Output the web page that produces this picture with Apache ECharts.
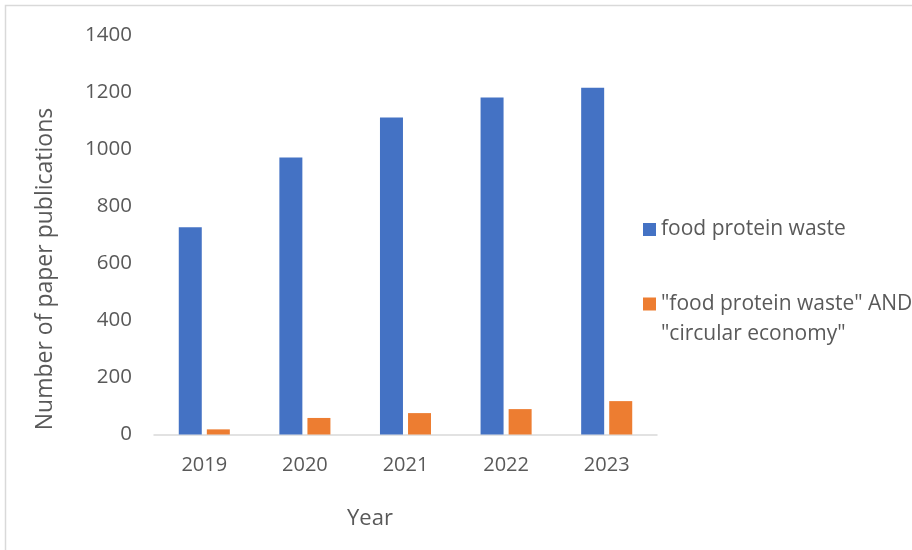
<!DOCTYPE html>
<html>
<head>
<meta charset="utf-8">
<script src="https://cdn.jsdelivr.net/npm/echarts@6/dist/echarts.min.js"></script>
<style>
html,body{margin:0;padding:0;background:#fff;}
#chart{width:912px;height:550px;}
</style>
</head>
<body>
<div id="chart"></div>
<script>
var categories = ['2019', '2020', '2021', '2022', '2023'];
var seriesNames = ['food protein waste', '"food protein waste" AND "circular economy"'];
var legendLabels = ['food protein waste', '\n"food protein waste" AND\n"circular economy"'];
var foodProteinWaste = [726, 971, 1111, 1181, 1215];
var circularEconomy = [18, 58, 75, 89, 117];
var yTicks = [0, 200, 400, 600, 800, 1000, 1200, 1400];

var FONT = '"Open Sans", sans-serif';
var TXT = '#595959';

var chart = echarts.init(document.getElementById('chart'), null, {renderer: 'canvas'});
chart.setOption({
  animation: false,
  backgroundColor: '#ffffff',
  textStyle: {fontFamily: FONT},
  grid: {left: 154, right: 255, top: 35, bottom: 115.5, containLabel: false},
  legend: [{
    orient: 'vertical',
    left: 638,
    top: 209.5,
    itemWidth: 13,
    itemHeight: 13,
    itemGap: 0,
    icon: 'rect',
    data: [seriesNames[0]],
    formatter: function () { return legendLabels[0]; },
    textStyle: {fontFamily: FONT, fontSize: 21, color: TXT, lineHeight: 30}
  }, {
    orient: 'vertical',
    left: 638,
    top: 254,
    itemWidth: 13,
    itemHeight: 13,
    itemGap: 0,
    icon: 'rect',
    data: [seriesNames[1]],
    formatter: function () { return legendLabels[1]; },
    textStyle: {fontFamily: FONT, fontSize: 21, color: TXT, lineHeight: 30}
  }],
  xAxis: {
    type: 'category',
    data: categories,
    axisLine: {lineStyle: {color: '#d9d9d9', width: 1.5}},
    axisTick: {show: false},
    axisLabel: {color: TXT, fontSize: 20, fontFamily: FONT, margin: 21}
  },
  yAxis: {
    type: 'value',
    min: yTicks[0],
    max: yTicks[yTicks.length - 1],
    interval: yTicks[1] - yTicks[0],
    axisLine: {show: false},
    axisTick: {show: false},
    splitLine: {show: false},
    axisLabel: {color: TXT, fontSize: 20.5, fontFamily: FONT, margin: 22, formatter: function (v) { return String(v); }}
  },
  series: [{
    name: seriesNames[0],
    type: 'bar',
    data: foodProteinWaste,
    barWidth: 23,
    barGap: '22%',
    itemStyle: {color: '#4472C4'}
  }, {
    name: seriesNames[1],
    type: 'bar',
    data: circularEconomy,
    barWidth: 23,
    barGap: '22%',
    itemStyle: {color: '#ED7D31'}
  }],
  graphic: [{
    type: 'rect',
    silent: true,
    shape: {x: 5.5, y: 5.5, width: 1200, height: 1200},
    style: {fill: 'none', stroke: '#d9d9d9', lineWidth: 1.5}
  }, {
    type: 'text',
    x: 45,
    y: 269,
    rotation: Math.PI / 2,
    style: {text: 'Number of paper publications', fill: TXT, font: '23px ' + FONT, align: 'center', verticalAlign: 'middle'}
  }, {
    type: 'text',
    x: 370,
    y: 519,
    style: {text: 'Year', fill: TXT, font: '22px ' + FONT, align: 'center', verticalAlign: 'middle'}
  }]
});
</script>
</body>
</html>
